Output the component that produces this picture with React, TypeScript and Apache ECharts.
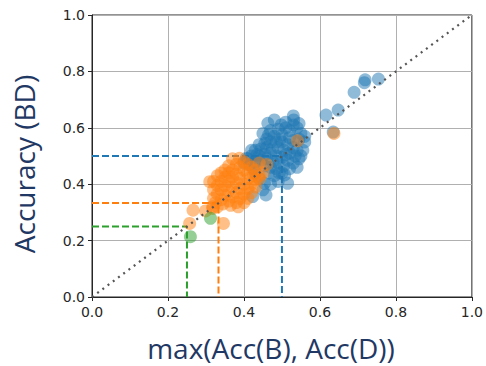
import React, { useEffect, useRef } from "react";
import * as echarts from "echarts";

const xTicks = [0.0, 0.2, 0.4, 0.6, 0.8, 1.0];

const bluePoints: number[][] = [
  [0.754, 0.773], [0.719, 0.77], [0.717, 0.76], [0.69, 0.726], [0.648, 0.663], [0.616, 0.645],
  [0.635, 0.585], [0.53, 0.642], [0.531, 0.628], [0.48, 0.628], [0.463, 0.616], [0.498, 0.61],
  [0.45, 0.58], [0.47, 0.59], [0.49, 0.595], [0.51, 0.6], [0.52, 0.59], [0.54, 0.6], [0.55, 0.58],
  [0.46, 0.56], [0.48, 0.57], [0.5, 0.575], [0.52, 0.565], [0.53, 0.555], [0.545, 0.56],
  [0.44, 0.54], [0.455, 0.545], [0.47, 0.55], [0.485, 0.55], [0.5, 0.55], [0.515, 0.54], [0.53, 0.53],
  [0.54, 0.52], [0.43, 0.52], [0.445, 0.525], [0.46, 0.53], [0.475, 0.525], [0.49, 0.53], [0.505, 0.52],
  [0.52, 0.51], [0.535, 0.5], [0.42, 0.5], [0.44, 0.5], [0.455, 0.505], [0.47, 0.51], [0.485, 0.5],
  [0.5, 0.495], [0.515, 0.485], [0.53, 0.475], [0.43, 0.48], [0.445, 0.485], [0.46, 0.49], [0.475, 0.48],
  [0.49, 0.475], [0.505, 0.465], [0.52, 0.455], [0.545, 0.49], [0.455, 0.465], [0.47, 0.46], [0.485, 0.455],
  [0.5, 0.44], [0.507, 0.433], [0.515, 0.403], [0.48, 0.43], [0.49, 0.41], [0.41, 0.49], [0.415, 0.47],
  [0.428, 0.48], [0.406, 0.492], [0.458, 0.362], [0.423, 0.356], [0.454, 0.403], [0.44, 0.42], [0.43, 0.44],
  [0.465, 0.44], [0.47, 0.4], [0.45, 0.38], [0.555, 0.52], [0.56, 0.55], [0.55, 0.5], [0.54, 0.46],
  [0.56, 0.57], [0.53, 0.61], [0.51, 0.62], [0.545, 0.615], [0.493, 0.44], [0.42, 0.52], [0.435, 0.505],
  [0.40, 0.475], [0.425, 0.455], [0.465, 0.575], [0.495, 0.56], [0.51, 0.505]
];

const orangePoints: number[][] = [
  [0.388, 0.492], [0.37, 0.49], [0.4, 0.48], [0.38, 0.47], [0.41, 0.47], [0.36, 0.465], [0.39, 0.46],
  [0.42, 0.46], [0.35, 0.45], [0.37, 0.45], [0.4, 0.45], [0.43, 0.45], [0.34, 0.44], [0.36, 0.44],
  [0.38, 0.435], [0.41, 0.44], [0.425, 0.43], [0.44, 0.43], [0.33, 0.43], [0.35, 0.425], [0.37, 0.425],
  [0.39, 0.42], [0.41, 0.42], [0.43, 0.415], [0.441, 0.42], [0.32, 0.41], [0.34, 0.41], [0.36, 0.41],
  [0.38, 0.405], [0.4, 0.4], [0.42, 0.4], [0.31, 0.409], [0.33, 0.395], [0.35, 0.395], [0.37, 0.39],
  [0.39, 0.385], [0.41, 0.385], [0.43, 0.39], [0.32, 0.38], [0.34, 0.38], [0.36, 0.375], [0.38, 0.37],
  [0.4, 0.365], [0.42, 0.37], [0.33, 0.365], [0.35, 0.36], [0.37, 0.355], [0.39, 0.35], [0.41, 0.35],
  [0.32, 0.35], [0.34, 0.345], [0.36, 0.34], [0.38, 0.335], [0.4, 0.335], [0.325, 0.335], [0.345, 0.33],
  [0.318, 0.32], [0.365, 0.325], [0.385, 0.32], [0.33, 0.32], [0.45, 0.44], [0.46, 0.47], [0.44, 0.475],
  [0.266, 0.308], [0.257, 0.261], [0.299, 0.305], [0.346, 0.261], [0.318, 0.314], [0.541, 0.554], [0.637, 0.58]
];

const greenPoints: number[][] = [[0.312, 0.279], [0.259, 0.214]];

const blueGuide: number[][] = [[0, 0.5], [0.5, 0.5], [0.5, 0]];
const orangeGuide: number[][] = [[0, 0.333], [0.333, 0.333], [0.333, 0]];
const greenGuide: number[][] = [[0, 0.25], [0.25, 0.25], [0.25, 0]];
const diagonal: number[][] = [[0, 0], [1, 1]];

const BLUE = "#1f77b4";
const ORANGE = "#ff7f0e";
const GREEN = "#2ca02c";

export default function App() {
  const ref = useRef<HTMLDivElement>(null);
  useEffect(() => {
    if (!ref.current) return;
    const chart = echarts.init(ref.current, null, { renderer: "svg" });
    const axisCommon = {
      type: "value" as const,
      min: xTicks[0],
      max: xTicks[xTicks.length - 1],
      interval: 0.2,
      axisLine: { show: true, onZero: false, lineStyle: { color: "#262626", width: 1 } },
      axisTick: { show: true, inside: false, length: 4, lineStyle: { color: "#262626" } },
      axisLabel: {
        color: "#262626",
        fontFamily: "DejaVu Sans",
        fontSize: 14,
        formatter: (v: number) => v.toFixed(1),
      },
      splitLine: { show: true, lineStyle: { color: "#b0b0b0", width: 1 } },
    };
    const guide = (data: number[][], color: string) => ({
      type: "line",
      data,
      symbol: "none",
      silent: true,
      z: 1,
      lineStyle: { color, width: 2, type: [7, 3] },
    });
    const scatter = (data: number[][], color: string, z: number) => ({
      type: "scatter",
      data,
      symbolSize: 13,
      z,
      itemStyle: { color, opacity: 0.5 },
    });
    chart.setOption({
      animation: false,
      grid: {
        left: 92,
        top: 15,
        right: 13,
        bottom: 69,
        show: true,
        borderColor: "#262626",
        borderWidth: 1,
      },
      xAxis: { ...axisCommon, axisLabel: { ...axisCommon.axisLabel, margin: 8 } },
      yAxis: { ...axisCommon, axisLabel: { ...axisCommon.axisLabel, margin: 7 } },
      series: [
        guide(blueGuide, BLUE),
        guide(orangeGuide, ORANGE),
        guide(greenGuide, GREEN),
        scatter(bluePoints, BLUE, 2),
        scatter(orangePoints, ORANGE, 3),
        scatter(greenPoints, GREEN, 4),
        {
          type: "line",
          data: diagonal,
          symbol: "none",
          silent: true,
          z: 5,
          lineStyle: { color: "#555555", width: 2.2, type: [2, 4.5] },
        },
      ],
      graphic: [
        {
          type: "text",
          x: 271,
          y: 348,
          style: {
            text: "max(Acc(B), Acc(D))",
            fill: "#1f3864",
            font: '28px "Open Sans"',
            align: "center",
            verticalAlign: "middle",
          },
        },
        {
          type: "text",
          x: 24,
          y: 164,
          rotation: Math.PI / 2,
          style: {
            text: "Accuracy (BD)",
            fill: "#1f3864",
            font: '28px "Open Sans"',
            align: "center",
            verticalAlign: "middle",
          },
        },
      ],
    });
    return () => chart.dispose();
  }, []);
  return (
    <div
      ref={ref}
      style={{ position: "absolute", left: 0, top: 0, width: 486, height: 366 }}
    />
  );
}
